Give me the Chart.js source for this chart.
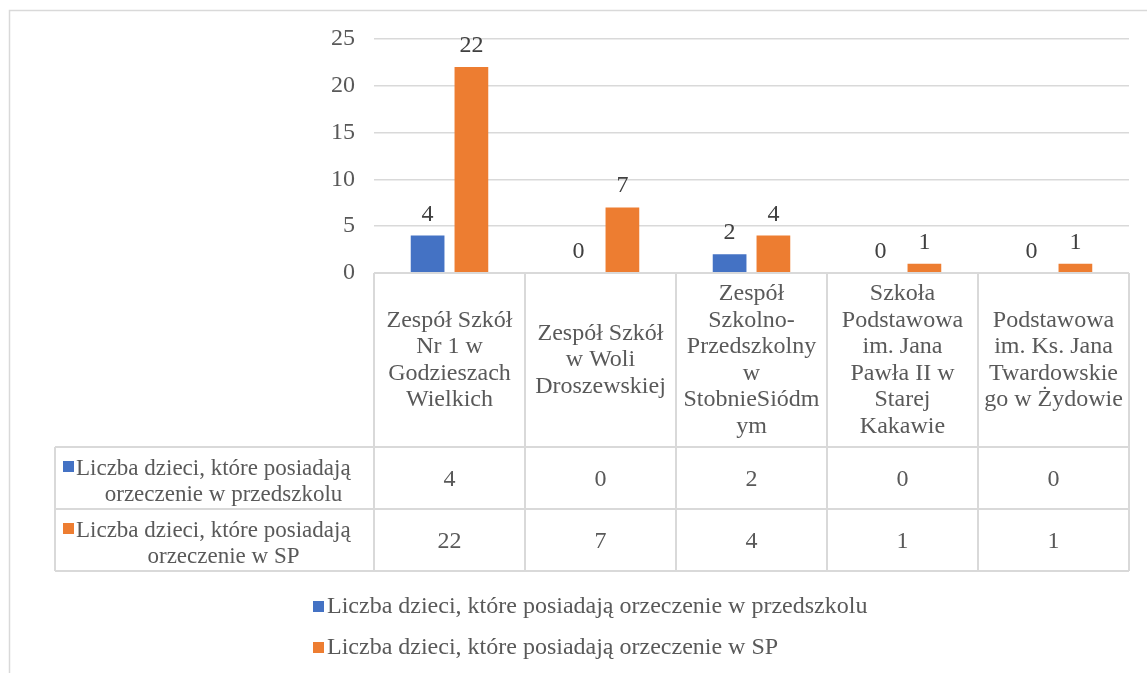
<!DOCTYPE html>
<html>
<head>
<meta charset="utf-8">
<script src="https://cdn.jsdelivr.net/npm/chart.js@4/dist/chart.umd.min.js"></script>
<style>
  html, body { margin: 0; padding: 0; background: #fff; }
  canvas { display: block; }
</style>
</head>
<body>
<canvas id="chart" width="1147" height="673"></canvas>
<script>
// categories (wrapped the way the original table shows them)
const categories = [
  ['Zespół Szkół', 'Nr 1 w', 'Godzieszach', 'Wielkich'],
  ['Zespół Szkół', 'w Woli', 'Droszewskiej'],
  ['Zespół', 'Szkolno-', 'Przedszkolny', 'w', 'StobnieSiódm', 'ym'],
  ['Szkoła', 'Podstawowa', 'im. Jana', 'Pawła II w', 'Starej', 'Kakawie'],
  ['Podstawowa', 'im. Ks. Jana', 'Twardowskie', 'go w Żydowie']
];
const seriesNames = [
  'Liczba dzieci, które posiadają orzeczenie w przedszkolu',
  'Liczba dzieci, które posiadają orzeczenie w SP'
];
// row labels in the data table, split into lines
const rowLabelLines = [
  ['Liczba dzieci, które posiadają', 'orzeczenie w przedszkolu'],
  ['Liczba dzieci, które posiadają', 'orzeczenie w SP']
];
const przedszkole = [4, 0, 2, 0, 0];
const szkolaPodst = [22, 7, 4, 1, 1];
const yTicks = [0, 5, 10, 15, 20, 25];

const colors = ['#4472C4', '#ED7D31'];
const FONT = '"Liberation Serif", "Times New Roman", serif';
const FS = 24;
const textColor = '#595959';
const lineColor = '#d9d9d9';

// draws the value labels, the data table and the legend
const tablePlugin = {
  id: 'tablePlugin',
  beforeDraw(chart) {
    const ctx = chart.ctx;
    ctx.save();
    ctx.strokeStyle = lineColor;
    ctx.lineWidth = 1.5;
    ctx.beginPath();
    ctx.moveTo(9.5, 680);
    ctx.lineTo(9.5, 10.5);
    ctx.lineTo(1160, 10.5);
    ctx.stroke();
    ctx.restore();
  },
  afterDatasetsDraw(chart) {
    const ctx = chart.ctx;
    ctx.save();
    ctx.font = FS + 'px ' + FONT;
    ctx.fillStyle = '#404040';
    ctx.textAlign = 'center';
    ctx.textBaseline = 'alphabetic';
    chart.data.datasets.forEach((ds, di) => {
      const meta = chart.getDatasetMeta(di);
      meta.data.forEach((bar, i) => {
        ctx.fillText(String(ds.data[i]), bar.x, bar.y - 15);
      });
    });
    ctx.restore();
  },
  afterDraw(chart) {
    const ctx = chart.ctx;
    const xs = chart.scales.x;
    const n = categories.length;
    const step = xs.getPixelForValue(1) - xs.getPixelForValue(0);
    const left = xs.getPixelForValue(0) - step / 2;
    const right = xs.getPixelForValue(n - 1) + step / 2;
    const top = chart.chartArea.bottom;
    const headH = 174, rowH = 62;
    const labelLeft = 55;
    const lh = 26.5;

    ctx.save();
    ctx.strokeStyle = lineColor;
    ctx.lineWidth = 2;
    ctx.beginPath();
    ctx.moveTo(left, top); ctx.lineTo(right, top);
    for (let r = 0; r <= 2; r++) {
      const y = top + headH + r * rowH;
      ctx.moveTo(labelLeft, y); ctx.lineTo(right, y);
    }
    for (let i = 0; i <= n; i++) {
      const x = left + i * step;
      ctx.moveTo(x, top); ctx.lineTo(x, top + headH + 2 * rowH);
    }
    ctx.moveTo(labelLeft, top + headH); ctx.lineTo(labelLeft, top + headH + 2 * rowH);
    ctx.stroke();

    ctx.font = FS + 'px ' + FONT;
    ctx.fillStyle = textColor;
    ctx.textAlign = 'center';
    ctx.textBaseline = 'middle';
    // header cells
    categories.forEach((lines, i) => {
      const cx = xs.getPixelForValue(i);
      const cy = top + headH / 2;
      lines.forEach((t, k) => {
        ctx.fillText(t, cx, cy + (k - (lines.length - 1) / 2) * lh);
      });
    });
    // value rows
    chart.data.datasets.forEach((ds, di) => {
      const cy = top + headH + di * rowH + rowH / 2;
      ctx.font = FS + 'px ' + FONT;
      ctx.textAlign = 'center';
      ds.data.forEach((v, i) => {
        ctx.fillText(String(v), xs.getPixelForValue(i), cy + 2);
      });
      // row label with colour key
      const lines = rowLabelLines[di];
      ctx.font = '23px ' + FONT;
      ctx.fillStyle = colors[di];
      ctx.fillRect(labelLeft + 8, cy - 17, 11, 11);
      ctx.fillStyle = textColor;
      ctx.textAlign = 'left';
      ctx.fillText(lines[0], labelLeft + 21, cy - 9);
      ctx.textAlign = 'center';
      ctx.fillText(lines[1], (labelLeft + left) / 2 + 9, cy + 17);
    });

    // legend
    ctx.font = FS + 'px ' + FONT;
    ctx.textAlign = 'left';
    const legX = 313;
    const legY = [607, 648];
    chart.data.datasets.forEach((ds, di) => {
      ctx.fillStyle = colors[di];
      ctx.fillRect(legX, legY[di] - 6, 11, 11);
      ctx.fillStyle = textColor;
      ctx.fillText(ds.label, legX + 14, legY[di]);
    });
    ctx.restore();
  }
};

new Chart(document.getElementById('chart'), {
  type: 'bar',
  data: {
    labels: categories,
    datasets: [
      { label: seriesNames[0], data: przedszkole, backgroundColor: colors[0] },
      { label: seriesNames[1], data: szkolaPodst, backgroundColor: colors[1] }
    ]
  },
  options: {
    responsive: false,
    animation: false,
    layout: { padding: { left: 300, right: 18, top: 39, bottom: 400 } },
    datasets: {
      bar: { categoryPercentage: 0.58, barPercentage: 0.77 }
    },
    plugins: {
      legend: { display: false },
      tooltip: { enabled: false }
    },
    scales: {
      x: { display: false },
      y: {
        min: 0,
        max: 25,
        border: { display: false },
        grid: { color: lineColor, lineWidth: 1.5, drawTicks: false },
        afterFit(scale) { scale.width = 74; },
        afterBuildTicks(scale) { scale.ticks = yTicks.map(v => ({ value: v })); },
        ticks: {
          padding: 19,
          color: textColor,
          font: { family: FONT, size: FS }
        }
      }
    }
  },
  plugins: [tablePlugin]
});
</script>
</body>
</html>
